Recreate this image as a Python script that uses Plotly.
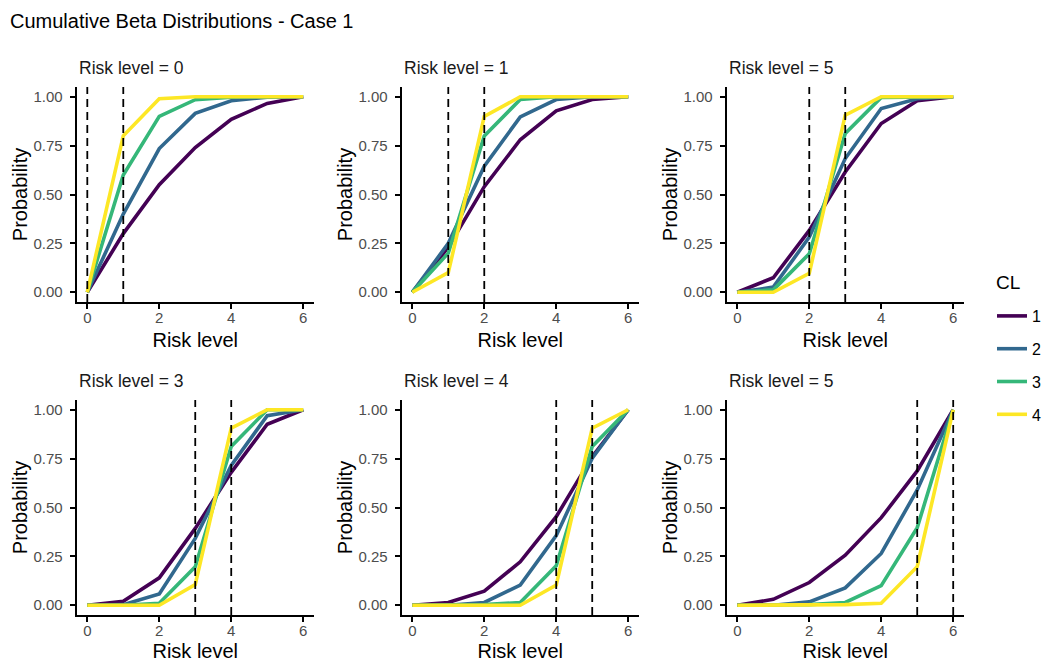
import plotly.graph_objects as go
from plotly.subplots import make_subplots

risk_levels = [0, 1, 2, 3, 4, 5, 6]
cl_labels = ["1", "2", "3", "4"]
cl_colors = ["#440154", "#31688E", "#35B779", "#FDE725"]
panel_titles = ["Risk level = 0", "Risk level = 1", "Risk level = 5",
                "Risk level = 3", "Risk level = 4", "Risk level = 5"]
panel_vlines = [[0, 1], [1, 2], [2, 3], [3, 4], [4, 5], [5, 6]]

# cumulative probabilities per panel, per CL (1..4)
panel_values = [
    [  # Risk level = 0
        [0.0, 0.30, 0.55, 0.74, 0.885, 0.966, 1.0],
        [0.0, 0.40, 0.735, 0.915, 0.98, 0.998, 1.0],
        [0.0, 0.60, 0.90, 0.985, 0.998, 1.0, 1.0],
        [0.0, 0.80, 0.99, 1.0, 1.0, 1.0, 1.0],
    ],
    [  # Risk level = 1
        [0.0, 0.23, 0.54, 0.78, 0.928, 0.986, 1.0],
        [0.0, 0.25, 0.645, 0.897, 0.986, 1.0, 1.0],
        [0.0, 0.20, 0.80, 0.986, 1.0, 1.0, 1.0],
        [0.0, 0.10, 0.90, 1.0, 1.0, 1.0, 1.0],
    ],
    [  # Risk level = 5 (top right)
        [0.0, 0.074, 0.316, 0.615, 0.863, 0.98, 1.0],
        [0.0, 0.026, 0.282, 0.684, 0.94, 0.99, 1.0],
        [0.0, 0.012, 0.197, 0.812, 0.997, 1.0, 1.0],
        [0.0, 0.0, 0.097, 0.906, 1.0, 1.0, 1.0],
    ],
    [  # Risk level = 3
        [0.0, 0.02, 0.14, 0.393, 0.68, 0.926, 1.0],
        [0.0, 0.003, 0.058, 0.342, 0.715, 0.97, 1.0],
        [0.0, 0.0, 0.01, 0.197, 0.812, 1.0, 1.0],
        [0.0, 0.0, 0.0, 0.106, 0.906, 1.0, 1.0],
    ],
    [  # Risk level = 4
        [0.0, 0.014, 0.072, 0.222, 0.453, 0.76, 1.0],
        [0.0, 0.0, 0.014, 0.103, 0.356, 0.752, 1.0],
        [0.0, 0.0, 0.003, 0.014, 0.202, 0.812, 1.0],
        [0.0, 0.0, 0.0, 0.0, 0.103, 0.906, 1.0],
    ],
    [  # Risk level = 5 (bottom right)
        [0.0, 0.03, 0.116, 0.256, 0.448, 0.687, 1.0],
        [0.0, 0.0, 0.017, 0.089, 0.265, 0.59, 1.0],
        [0.0, 0.0, 0.003, 0.014, 0.10, 0.397, 1.0],
        [0.0, 0.0, 0.0, 0.003, 0.01, 0.197, 1.0],
    ],
]

W, H = 1048, 662
FONT = "Liberation Sans, Arial, sans-serif"

col_px = [(76.5, 314.0), (401.5, 639.0), (726.5, 964.0)]
row_px = [(87.0, 302.0), (400.0, 615.0)]

fig = make_subplots(rows=2, cols=3)

for i in range(6):
    r, c = divmod(i, 3)
    for k in range(4):
        fig.add_trace(
            go.Scatter(
                x=risk_levels, y=panel_values[i][k], mode="lines",
                line=dict(color=cl_colors[k], width=3.6),
                name=cl_labels[k], legendgroup=cl_labels[k],
                showlegend=(i == 0), hoverinfo="skip",
            ),
            row=r + 1, col=c + 1,
        )

shapes = []
annotations = []
for i in range(6):
    r, c = divmod(i, 3)
    idx = i + 1
    xa = "xaxis" if idx == 1 else f"xaxis{idx}"
    ya = "yaxis" if idx == 1 else f"yaxis{idx}"
    x0, x1 = col_px[c]
    y0, y1 = row_px[r]
    fig.layout[xa].update(
        domain=[x0 / W, x1 / W], range=[-0.3, 6.3],
        tickvals=[0, 2, 4, 6], ticktext=["0", "2", "4", "6"],
        showline=True, linecolor="black", linewidth=1.8,
        ticks="outside", ticklen=5, tickcolor="black", tickwidth=1.5,
        ticklabelstandoff=-4,
        showgrid=False, zeroline=False,
        tickfont=dict(size=15, color="#4d4d4d", family=FONT),
        title=dict(text="Risk level", font=dict(size=20, color="black", family=FONT), standoff=8),
    )
    fig.layout[ya].update(
        domain=[1 - y1 / H, 1 - y0 / H], range=[-0.05, 1.05],
        tickvals=[0, 0.25, 0.5, 0.75, 1.0],
        ticktext=["0.00", "0.25", "0.50", "0.75", "1.00"],
        showline=True, linecolor="black", linewidth=1.8,
        ticks="outside", ticklen=5, tickcolor="black", tickwidth=1.5,
        ticklabelstandoff=4,
        showgrid=False, zeroline=False,
        tickfont=dict(size=15, color="#4d4d4d", family=FONT),
        title=dict(text="Probability", font=dict(size=20, color="black", family=FONT), standoff=0),
    )
    xref = "x" if idx == 1 else f"x{idx}"
    yref = "y domain" if idx == 1 else f"y{idx} domain"
    for v in panel_vlines[i]:
        shapes.append(dict(type="line", xref=xref, yref=yref, x0=v, x1=v, y0=0, y1=1,
                           line=dict(color="black", width=1.8, dash="8px,5px")))
    annotations.append(dict(
        text=panel_titles[i], xref="paper", yref="paper",
        x=(x0 + 0.5) / W, y=1 - (y0 - 19) / H, xanchor="left", yanchor="middle",
        showarrow=False, font=dict(size=17.5, color="#1a1a1a", family=FONT),
    ))

annotations.append(dict(
    text="CL", xref="paper", yref="paper", x=994 / W, y=1 - 283 / H,
    xanchor="left", yanchor="middle", showarrow=False,
    font=dict(size=19, color="black", family=FONT),
))

fig.update_layout(
    width=W, height=H,
    margin=dict(l=0, r=0, t=0, b=0),
    paper_bgcolor="white", plot_bgcolor="white",
    shapes=shapes, annotations=annotations,
    font=dict(family=FONT),
    title=dict(text="Cumulative Beta Distributions - Case 1", x=10 / W, y=1 - 21 / H,
               xanchor="left", yanchor="middle",
               font=dict(size=20, color="black", family=FONT)),
    legend=dict(
        x=992 / W, y=1 - 299 / H, xanchor="left", yanchor="top",
        font=dict(size=16, color="black", family=FONT),
        tracegroupgap=9, itemwidth=30, bgcolor="rgba(0,0,0,0)",
    ),
)

fig.write_html("out.html")
